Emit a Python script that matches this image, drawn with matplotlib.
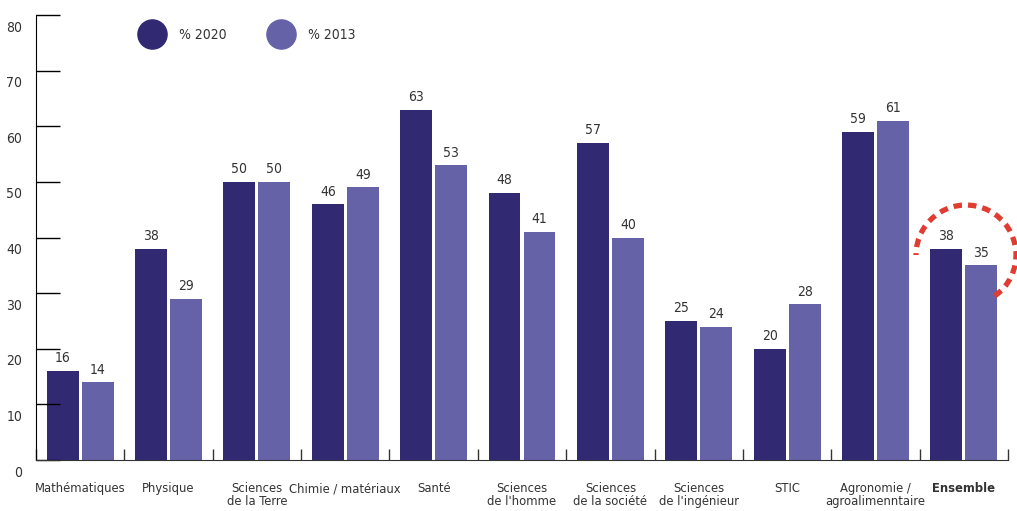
import numpy as np
import matplotlib
matplotlib.use("Agg")
import matplotlib.pyplot as plt
from matplotlib import font_manager as fm
from matplotlib.lines import Line2D
from matplotlib.patches import Arc
from matplotlib.transforms import ScaledTranslation

# data
categories = ["Mathématiques", "Physique", "Sciences\nde la Terre", "Chimie / matériaux",
              "Santé", "Sciences\nde l'homme", "Sciences\nde la société",
              "Sciences\nde l'ingénieur", "STIC", "Agronomie /\nagroalimenntaire", "Ensemble"]
pct_2020 = [16, 38, 50, 46, 63, 48, 57, 25, 20, 59, 38]
pct_2013 = [14, 29, 50, 49, 53, 41, 40, 24, 28, 61, 35]
series_labels = ["% 2020", "% 2013"]
y_ticks = [0, 10, 20, 30, 40, 50, 60, 70, 80]

dark = "#312a73"
light = "#6562a8"
txt = "#333333"

# look for a narrow font (the original uses a condensed DIN-like face)
def find_font(keys):
    files = fm.findSystemFonts()
    for k in keys:
        for f in files:
            if f.split("/")[-1].lower() == k.lower():
                return f
    return None

reg_file = find_font(["LiberationSansNarrow-Regular.ttf", "DejaVuSansCondensed.ttf"])
bold_file = find_font(["LiberationSansNarrow-Bold.ttf", "DejaVuSansCondensed-Bold.ttf"])
if reg_file:
    fp = fm.FontProperties(fname=reg_file, size=10)
    fpx = fm.FontProperties(fname=reg_file, size=9.3)
else:
    fp = fm.FontProperties(family="DejaVu Sans", stretch="condensed", size=9)
    fpx = fp
if bold_file:
    fpb = fm.FontProperties(fname=bold_file, size=9.3)
else:
    fpb = fm.FontProperties(family="DejaVu Sans", weight="bold", size=9)

fig = plt.figure(figsize=(10.17, 5.11), dpi=100)
ax = fig.add_axes([36/1017, 1 - 460/511, (1008 - 36)/1017, (460 - 15)/511])

x = np.arange(len(categories))
w = 0.362
off = 0.198
b1 = ax.bar(x - off, pct_2020, w, color=dark)
b2 = ax.bar(x + off, pct_2013, w, color=light)
for bars in (b1, b2):
    for r in bars:
        ax.annotate(f"{int(r.get_height())}", (r.get_x() + r.get_width()/2, r.get_height()),
                    xytext=(0, 4), textcoords="offset points", ha="center", va="bottom",
                    fontproperties=fp, color=txt)

ax.set_xlim(-0.5, len(categories) - 0.5)
ax.set_ylim(0, 80)
for s in ("top", "right"):
    ax.spines[s].set_visible(False)
ax.spines["left"].set_color("black")
ax.spines["bottom"].set_color("#333333")

ax.set_yticks(y_ticks)
ax.tick_params(axis="y", direction="in", length=17, width=1, pad=10, labelcolor=txt)
for lab in ax.get_yticklabels():
    lab.set_fontproperties(fp)
    lab.set_transform(lab.get_transform() + ScaledTranslation(0, -8/72, fig.dpi_scale_trans))

ax.set_xticks(x)
ax.set_xticklabels(categories, color=txt, linespacing=1.0)
for lab in ax.get_xticklabels():
    lab.set_fontproperties(fpx)
    lab.set_verticalalignment("top")
ax.get_xticklabels()[-1].set_fontproperties(fpb)
ax.tick_params(axis="x", which="major", length=0, pad=16)
ax.set_xticks(np.arange(len(categories) + 1) - 0.5, minor=True)
ax.tick_params(axis="x", which="minor", direction="in", length=8, width=1, color="#333333")

# legend
handles = [Line2D([], [], marker="o", ls="", markersize=21, color=c) for c in (dark, light)]
fig.legend(handles, series_labels, loc="center left", bbox_to_anchor=(137/1017, 1 - 35/511),
           ncol=2, frameon=False, prop=fp, handletextpad=0.8, columnspacing=2.85,
           labelcolor=txt, borderpad=0, borderaxespad=0, handlelength=2.2)

# red dashed highlight around "Ensemble" (sized in inches, placed in data coords)
ens = len(categories) - 1
arc_tr = fig.dpi_scale_trans + ScaledTranslation(ens + 0.025, 36.85, ax.transData)
arc = Arc((0, 0), 1.0, 1.0, theta1=-55, theta2=180, color="#e03c31", lw=3.8,
          linestyle=(0, (1.6, 1.15)), transform=arc_tr, clip_on=False)
ax.add_patch(arc)

fig.savefig("out.png", dpi=100)
